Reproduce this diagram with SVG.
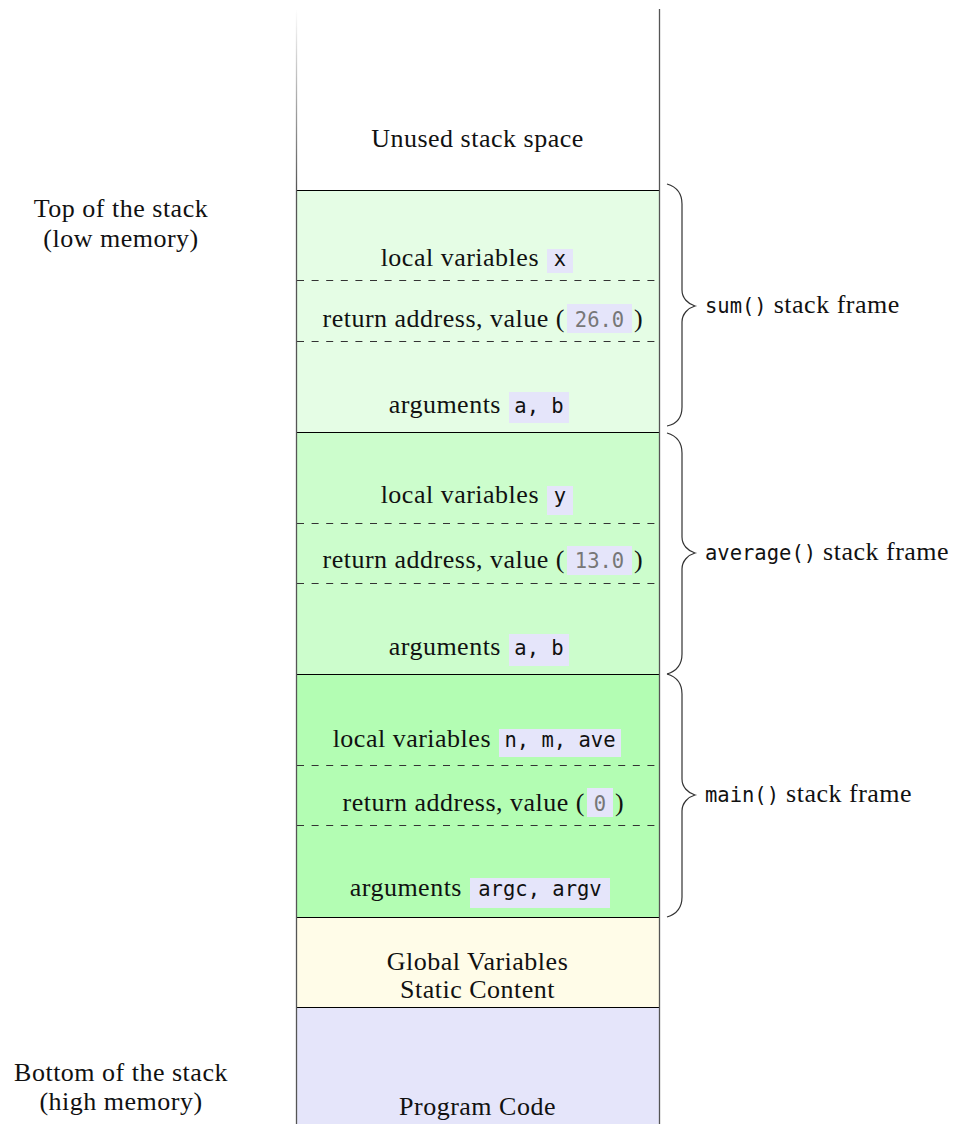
<svg xmlns="http://www.w3.org/2000/svg" width="959" height="1124" viewBox="0 0 959 1124">
<style>
.s{font-family:"Liberation Serif","Times New Roman",serif;font-size:26px;letter-spacing:0.5px;fill:#111}
.m{font-family:"DejaVu Sans Mono","Liberation Mono",monospace;font-size:20.5px;letter-spacing:0;fill:#111}
.g{fill:#777}
.c{text-anchor:middle}
.e{text-anchor:end}
.box{fill:#e5e5fa}
.hl{stroke:#000;stroke-width:1.2}
.dash{stroke:#333;stroke-width:1.1;stroke-dasharray:7 7.6}
.vl{stroke:#555;stroke-width:1.3}
.brace{fill:none;stroke:#333;stroke-width:1.2}
</style>
<defs>
<linearGradient id="fade" x1="0" y1="0" x2="0" y2="1">
<stop offset="0" stop-color="#ffffff"/>
<stop offset="1" stop-color="#555555"/>
</linearGradient>
</defs>
<rect width="959" height="1124" fill="#ffffff"/>

<g id="node-unused">
<text class="s c" x="477.5" y="147">Unused stack space</text>
</g>

<g id="node-sum">
<rect x="296" y="190" width="363" height="242" fill="#e5fde5"/>
<line class="dash" x1="297" y1="280.5" x2="658" y2="280.5"/>
<line class="dash" x1="297" y1="341.5" x2="658" y2="341.5"/>
<text class="s e" x="539" y="266">local variables</text>
<rect class="box" x="547" y="249" width="26" height="24"/>
<text class="m c" x="560" y="266">x</text>
<text class="s e" x="565" y="327">return address, value (</text>
<rect class="box" x="567" y="304" width="65" height="29"/>
<text class="m c g" x="599.5" y="327">26.0</text>
<text class="s" x="634" y="327">)</text>
<text class="s e" x="501" y="413">arguments</text>
<rect class="box" x="509" y="392" width="60" height="31"/>
<text class="m c" x="539" y="413">a, b</text>
</g>

<g id="node-average">
<rect x="296" y="432" width="363" height="242" fill="#ccfdcc"/>
<line class="dash" x1="297" y1="523.5" x2="658" y2="523.5"/>
<line class="dash" x1="297" y1="583.5" x2="658" y2="583.5"/>
<text class="s e" x="539" y="503">local variables</text>
<rect class="box" x="547" y="486" width="26" height="29"/>
<text class="m c" x="560" y="503">y</text>
<text class="s e" x="565" y="568">return address, value (</text>
<rect class="box" x="567" y="546" width="65" height="29"/>
<text class="m c g" x="599.5" y="568">13.0</text>
<text class="s" x="634" y="568">)</text>
<text class="s e" x="501" y="655">arguments</text>
<rect class="box" x="509" y="634" width="60" height="32"/>
<text class="m c" x="539" y="655">a, b</text>
</g>

<g id="node-main">
<rect x="296" y="674" width="363" height="243" fill="#b3fdb3"/>
<line class="dash" x1="297" y1="765.5" x2="658" y2="765.5"/>
<line class="dash" x1="297" y1="825.5" x2="658" y2="825.5"/>
<text class="s e" x="491" y="747">local variables</text>
<rect class="box" x="499" y="729" width="122" height="28"/>
<text class="m c" x="560" y="747">n, m, ave</text>
<text class="s e" x="585" y="811">return address, value (</text>
<rect class="box" x="587" y="788" width="26" height="29"/>
<text class="m c g" x="600" y="811">0</text>
<text class="s" x="615" y="811">)</text>
<text class="s e" x="462" y="896">arguments</text>
<rect class="box" x="470" y="878" width="140" height="30"/>
<text class="m c" x="540" y="896">argc, argv</text>
</g>

<g id="node-global">
<rect x="296" y="917" width="363" height="90" fill="#fffce8"/>
<text class="s c" x="477.5" y="970">Global Variables</text>
<text class="s c" x="477.5" y="998">Static Content</text>
</g>

<g id="node-program">
<rect x="296" y="1007" width="363" height="117" fill="#e5e5fa"/>
<text class="s c" x="477.5" y="1115">Program Code</text>
</g>

<g id="frame-lines">
<line class="hl" x1="296" y1="190.5" x2="659" y2="190.5"/>
<line class="hl" x1="296" y1="432.5" x2="659" y2="432.5"/>
<line class="hl" x1="296" y1="674.5" x2="659" y2="674.5"/>
<line class="hl" x1="296" y1="917.5" x2="659" y2="917.5"/>
<line class="hl" x1="296" y1="1007.5" x2="659" y2="1007.5"/>
<rect x="295.85" y="9" width="1.3" height="181" fill="url(#fade)"/>
<line class="vl" x1="296.5" y1="190" x2="296.5" y2="1124"/>
<line class="vl" x1="659.5" y1="9" x2="659.5" y2="1124"/>
</g>

<g id="side-labels">
<text class="s c" x="121" y="217">Top of the stack</text>
<text class="s c" x="121" y="247">(low memory)</text>
<text class="s c" x="121" y="1081">Bottom of the stack</text>
<text class="s c" x="121" y="1110">(high memory)</text>
</g>

<g id="connectors">
<path class="brace" d="M667,184 C677,187 682,194 682,204 L682,290 C682,298 688,304 695,306 C688,308 682,314 682,322 L682,407 C682,417 677,424 667,426"/>
<path class="brace" d="M667,433 C677,436 682,443 682,453 L682,537 C682,545 688,551 695,553 C688,555 682,561 682,569 L682,654 C682,664 677,671 667,674"/>
<path class="brace" d="M667,674 C677,677 682,684 682,694 L682,779 C682,787 688,793 695,795 C688,797 682,803 682,811 L682,897 C682,907 677,914 667,917"/>
</g>

<g id="brace-labels">
<text x="705" y="313"><tspan class="m">sum()</tspan><tspan class="s"> stack frame</tspan></text>
<text x="705" y="560"><tspan class="m">average()</tspan><tspan class="s"> stack frame</tspan></text>
<text x="705" y="802"><tspan class="m">main()</tspan><tspan class="s"> stack frame</tspan></text>
</g>
</svg>
